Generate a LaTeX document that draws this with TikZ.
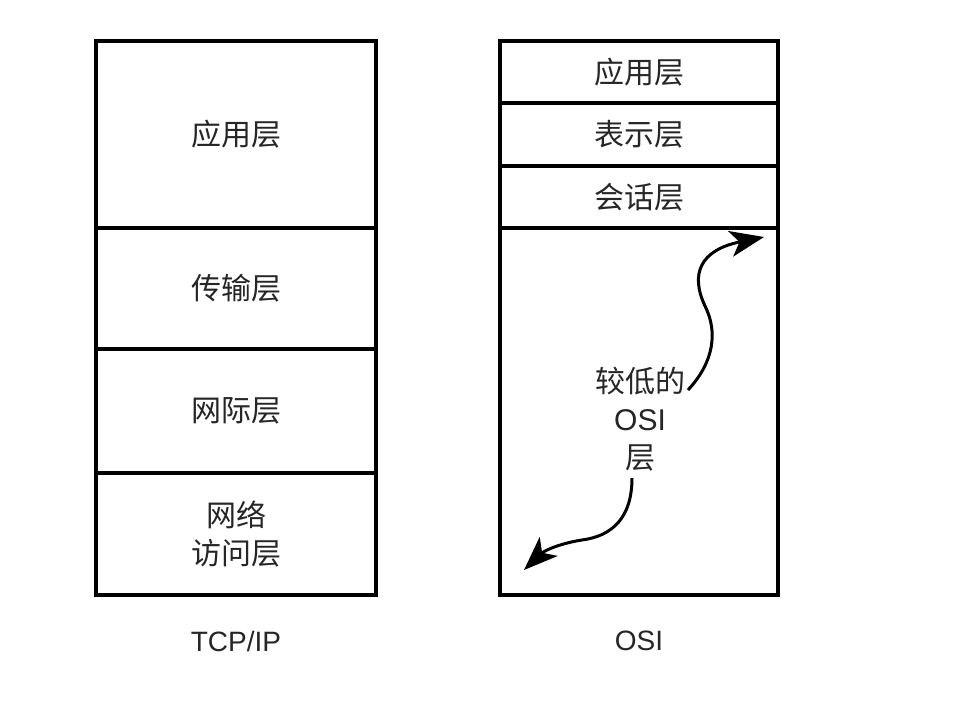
\documentclass[tikz,border=0pt]{standalone}
\usepackage{fontspec}
\setmainfont{Liberation Sans}
\newfontfamily\cjk{Noto Sans CJK SC}
\usetikzlibrary{arrows.meta}
\begin{document}
\begin{tikzpicture}[x=1pt,y=-1pt,
  layer/.style={draw=black,line width=3.2pt,inner sep=0pt,font=\cjk\fontsize{30}{38}\selectfont,text=black!85,align=center},
  lbl/.style={font=\fontsize{28}{32}\selectfont,text=black!85},
  wavy/.style={line width=3pt,-{Stealth[length=34pt,width=26pt,inset=9pt]}}]
\useasboundingbox (0,0) rectangle (964,710);
\fill[white] (0,0) rectangle (964,710);
% TCP/IP stack
\node[layer,minimum width=280pt,minimum height=187pt] (tapp) at (236,134.5) {应用层};
\node[layer,minimum width=280pt,minimum height=121pt] (ttra) at (236,288.5) {传输层};
\node[layer,minimum width=280pt,minimum height=124pt] (tint) at (236,411) {网际层};
\node[layer,minimum width=280pt,minimum height=122pt] (tnet) at (236,534) {网络\\[0pt]访问层};
% OSI stack
\node[layer,minimum width=278pt,minimum height=62pt] (oapp) at (639,72) {应用层};
\node[layer,minimum width=278pt,minimum height=63pt] (opre) at (639,134.5) {表示层};
\node[layer,minimum width=278pt,minimum height=62pt] (oses) at (639,197) {会话层};
\node[layer,minimum width=278pt,minimum height=367pt] (olow) at (639,411.5) {};
\node[font=\cjk\fontsize{30}{38}\selectfont,text=black!85,align=center,inner sep=0pt] (lowtxt) at (640,419) {较低的\\{\fontspec{Liberation Sans}OSI}\\层};
% captions
\node[lbl] (cap1) at (236,641) {TCP/IP};
\node[lbl] (cap2) at (639,641) {OSI};
% arrows
\coordinate (a1s) at (688,390);
\coordinate (a1e) at (764,237);
\coordinate (a2s) at (632,478);
\coordinate (a2e) at (524,570);
\draw[wavy] (a1s) .. controls (714,362) and (718,332) .. (705,306) .. controls (690,274) and (700,250) .. (a1e);
\draw[wavy] (a2s) .. controls (632,518) and (612,536) .. (582,540) .. controls (562,543) and (545,550) .. (a2e);
\end{tikzpicture}
\end{document}
